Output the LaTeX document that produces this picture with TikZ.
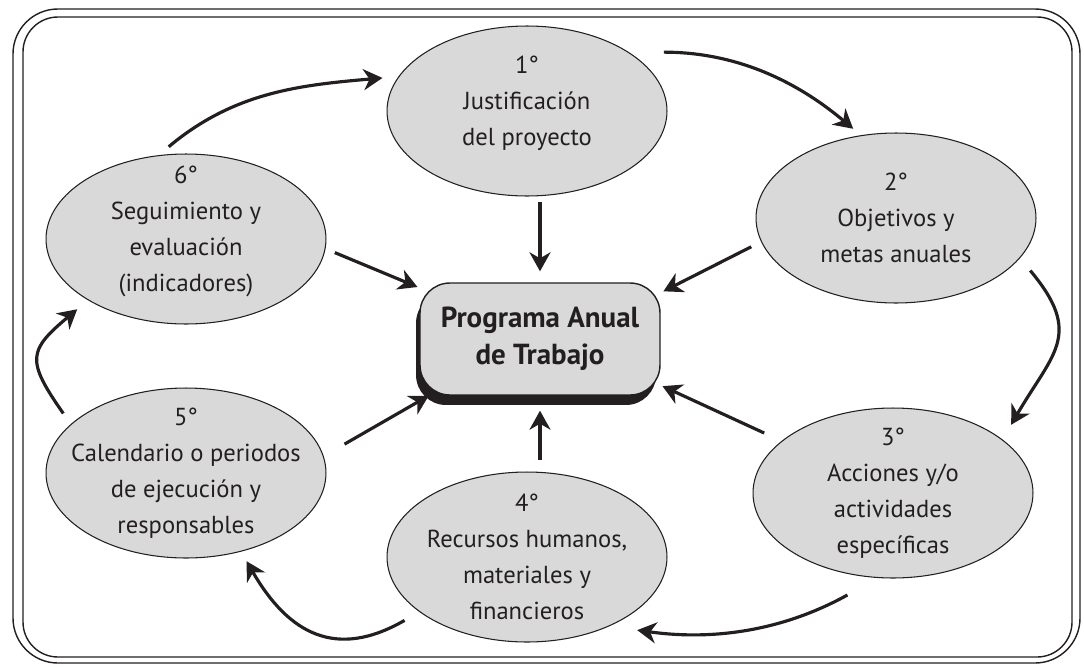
\documentclass[tikz,border=0pt]{standalone}
\usepackage{fontspec}
\setmainfont{PT Sans}
\usetikzlibrary{shapes.geometric}
\usetikzlibrary{arrows.meta}
\usetikzlibrary{shadows}
\definecolor{relleno}{gray}{0.85}
\definecolor{tinta}{HTML}{231F20}

\begin{document}
\begin{tikzpicture}[x=0.02cm, y=-0.02cm,
    etapa/.style={ellipse, draw=tinta, line width=0.6pt, fill=relleno,
        minimum width=5.6cm, minimum height=3.4cm, inner sep=0pt},
    texto/.style={align=center, text=tinta, font=\fontsize{14}{20.5}\selectfont},
    programa/.style={rectangle, rounded corners=0.6cm, draw=tinta, line width=0.8pt,
        fill=relleno, minimum width=4.8cm, minimum height=2.24cm, align=center,
        text=tinta, font=\bfseries\fontsize{16.5}{21}\selectfont,
        drop shadow={shadow xshift=-0.08cm, shadow yshift=-0.2cm, fill=tinta, opacity=1}},
    flecha/.style={line width=1.8pt, draw=tinta,
        -{Stealth[length=0.38cm, width=0.42cm, inset=0.12cm]}},
    marco/.style={line width=0.8pt, draw=tinta}]

    \useasboundingbox (0,0) rectangle (1084,666);

    % marco doble
    \draw[marco, rounded corners=0.9cm] (13,9) rectangle (1080,663);
    \draw[marco, rounded corners=0.7cm] (23,17) rectangle (1072,657);

    \node[programa] (prog) at (540,339) {Programa Anual\\de Trabajo};

    \node[etapa, label={[texto, yshift=0.16cm]center:{1°\\Justificación\\del proyecto}}] (e1) at (527,111) {};
    \node[etapa, label={[texto]center:{2°\\Objetivos y\\metas anuales}}] (e2) at (896,218) {};
    \node[etapa, label={[texto]center:{3°\\Acciones y/o\\actividades\\específicas}}] (e3) at (893,493) {};
    \node[etapa, label={[texto]center:{4°\\Recursos humanos,\\materiales y\\financieros}}] (e4) at (527,557) {};
    \node[etapa, label={[texto]center:{5°\\Calendario o periodos\\de ejecución y\\responsables}}] (e5) at (186,473) {};
    \node[etapa, label={[texto, yshift=0.16cm]center:{6°\\Seguimiento y\\evaluación\\(indicadores)}}] (e6) at (186,239) {};

    % hacia el programa
    \draw[flecha, shorten <=0.1cm, shorten >=0.22cm] (e1.south -| prog.north) -- (prog.north);
    \draw[flecha, shorten <=0.24cm, shorten >=0.3cm] (e4.north -| prog.south) -- (prog.south);
    \draw[flecha, shorten <=0.2cm, shorten >=0.04cm] (e6.-4) -- (prog.157);
    \draw[flecha, shorten <=0.22cm, shorten >=0.06cm] (e2.-170) -- (prog.21);
    \draw[flecha, shorten <=0.48cm] (e5.7) -- (prog.-153);
    \draw[flecha, shorten <=0.38cm, shorten >=0.04cm] (e3.155) -- (prog.-21);

    % ciclo
    \draw[flecha, shorten <=0.26cm, shorten >=0.32cm] (e6.108) to[out=40, in=185] (e1.165);
    \draw[flecha, shorten <=0.7cm, shorten >=0.2cm] (e1.30) to[out=0, in=140] (e2.113);
    \draw[flecha, shorten <=0.32cm, shorten >=0.34cm] (e2.-18) to[out=-50, in=60, looseness=1.4] (e3.26);
    \draw[flecha, shorten <=0.7cm, shorten >=0.56cm] (e3.-100) to[out=209, in=-8] (e4.-40);
    \draw[flecha, shorten <=0.34cm, shorten >=0.22cm] (e4.-153) to[out=210, in=-60, looseness=1.3] (e5.-55);
    \draw[flecha, shorten <=0.26cm, shorten >=0.28cm] (e5.157) to[out=125, in=-140, looseness=1.6] (e6.-148);

\end{tikzpicture}
\end{document}
